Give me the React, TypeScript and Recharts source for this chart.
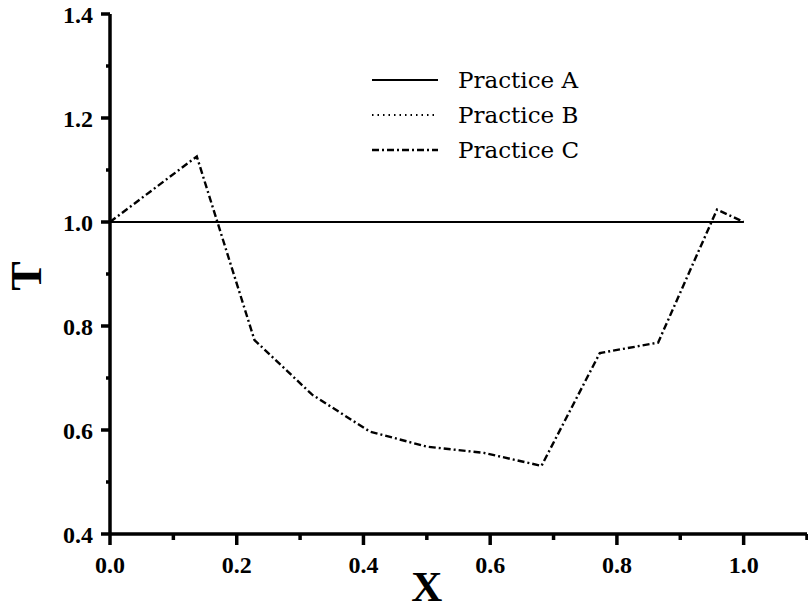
import { Label, Legend, Line, LineChart, XAxis, YAxis } from "recharts"

// tick values (every 0.1, labels only on the even ones)
const X_TICKS = [0, 0.1, 0.2, 0.3, 0.4, 0.5, 0.6, 0.7, 0.8, 0.9, 1.0, 1.1]
const Y_TICKS = [0.4, 0.5, 0.6, 0.7, 0.8, 0.9, 1.0, 1.1, 1.2, 1.3, 1.4]

// Practice A / B sit on T = 1
const A_X = [0, 1.0]
const A_T = [1.0, 1.0]
const B_X = [0, 1.0]
const B_T = [1.0, 1.0]

// Practice C
const C_X = [0, 0.137, 0.228, 0.319, 0.41, 0.5, 0.59, 0.681, 0.773, 0.865, 0.958, 1.0]
const C_T = [1.0, 1.126, 0.773, 0.668, 0.597, 0.568, 0.556, 0.531, 0.748, 0.768, 1.024, 1.0]

const SERIES = [
  { name: "Practice A", xs: A_X, ts: A_T, dash: undefined, width: 2.2 },
  { name: "Practice B", xs: B_X, ts: B_T, dash: "1.5 4", width: 2 },
  { name: "Practice C", xs: C_X, ts: C_T, dash: "7 3 2 3", width: 2.4 },
]

const TICK_FONT = {
  fontFamily: "'Liberation Serif', serif",
  fontWeight: 700,
  fontSize: 24,
  fill: "#000",
}

const isMajor = (v: number) => Math.round(v * 10) % 2 === 0

function XTick({ x, y, payload }: any) {
  const v = payload.value as number
  const major = isMajor(v)
  return (
    <g>
      <line x1={x} y1={y} x2={x} y2={y + (major ? 11 : 6)} stroke="#000" strokeWidth={3.5} />
      {major && (
        <text x={x} y={y + 39} textAnchor="middle" {...TICK_FONT}>
          {v.toFixed(1)}
        </text>
      )}
    </g>
  )
}

function YTick({ x, y, payload }: any) {
  const v = payload.value as number
  const major = isMajor(v)
  return (
    <g>
      <line x1={x} y1={y} x2={x - (major ? 9 : 4)} y2={y} stroke="#000" strokeWidth={3.5} />
      {major && (
        <text x={x - 17} y={y + 9} textAnchor="end" {...TICK_FONT}>
          {v.toFixed(1)}
        </text>
      )}
    </g>
  )
}

function renderLegend(props: any) {
  const items = props.payload || []
  return (
    <div>
      {items.map((entry: any) => {
        const s = SERIES.find((d) => d.name === entry.value)
        return (
          <div
            key={entry.value}
            style={{ display: "flex", alignItems: "center", height: 35 }}
          >
            <svg width={66} height={6}>
              <line
                x1={0}
                y1={3}
                x2={66}
                y2={3}
                stroke="#000"
                strokeWidth={s?.width ?? 2}
                strokeDasharray={s?.dash}
              />
            </svg>
            <span
              style={{
                marginLeft: 20,
                fontFamily: "'DejaVu Serif', serif",
                fontSize: 23,
                color: "#000",
              }}
            >
              {entry.value}
            </span>
          </div>
        )
      })}
    </div>
  )
}

export default function App() {
  return (
    <div style={{ position: "absolute", left: 0, top: 0, background: "#fff" }}>
      <LineChart
        width={808}
        height={610}
        margin={{ top: 14, right: 1, bottom: 6, left: 10 }}
      >
        <XAxis
          type="number"
          dataKey="x"
          domain={[0, 1.1]}
          ticks={X_TICKS}
          interval={0}
          height={70}
          tickSize={0}
          tickMargin={0}
          tickLine={false}
          tick={<XTick />}
          axisLine={{ stroke: "#000", strokeWidth: 3.5 }}
          allowDuplicatedCategory={false}
        >
          <Label
            content={({ viewBox }: any) => {
              const cx = viewBox.x + (viewBox.width * 0.5) / 1.1
              return (
                <text
                  x={cx}
                  y={viewBox.y + 67}
                  textAnchor="middle"
                  fontFamily="'Liberation Serif', serif"
                  fontWeight={700}
                  fontSize={43}
                  fill="#000"
                >
                  X
                </text>
              )
            }}
          />
        </XAxis>
        <YAxis
          type="number"
          domain={[0.4, 1.4]}
          ticks={Y_TICKS}
          interval={0}
          width={100}
          tickSize={0}
          tickMargin={0}
          tickLine={false}
          tick={<YTick />}
          axisLine={{ stroke: "#000", strokeWidth: 3.5 }}
        >
          <Label
            content={({ viewBox }: any) => {
              const cx = viewBox.x + viewBox.width - 84
              const cy = viewBox.y + viewBox.height / 2 + 2
              return (
                <text
                  x={cx}
                  y={cy}
                  transform={`rotate(-90 ${cx} ${cy})`}
                  textAnchor="middle"
                  dominantBaseline="central"
                  fontFamily="'Liberation Serif', serif"
                  fontWeight={700}
                  fontSize={44}
                  fill="#000"
                >
                  T
                </text>
              )
            }}
          />
        </YAxis>
        <Legend
          layout="vertical"
          align="center"
          verticalAlign="middle"
          content={renderLegend}
          wrapperStyle={{ top: 62, left: 372, width: "auto" }}
        />
        {SERIES.map((s) => (
          <Line
            key={s.name}
            name={s.name}
            data={s.xs.map((x, i) => ({ x, t: s.ts[i] }))}
            dataKey="t"
            stroke="#000"
            strokeWidth={s.width}
            strokeDasharray={s.dash}
            dot={false}
            activeDot={false}
            isAnimationActive={false}
          />
        ))}
      </LineChart>
    </div>
  )
}
